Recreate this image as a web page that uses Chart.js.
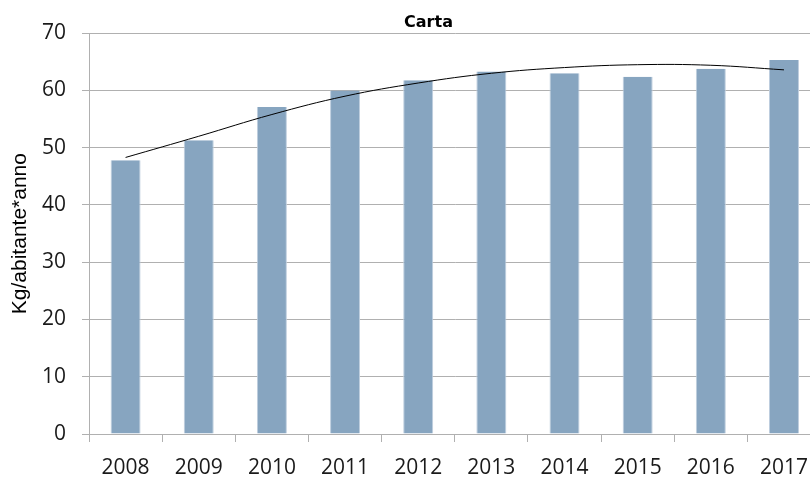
<!DOCTYPE html>
<html>
<head>
<meta charset="utf-8">
<script src="https://cdn.jsdelivr.net/npm/chart.js@4/dist/chart.umd.min.js"></script>
<style>
html,body{margin:0;padding:0;background:#fff;overflow:hidden;}
#wrap{width:810px;height:477px;overflow:hidden;position:relative;}
canvas{position:absolute;left:0;top:0;}
</style>
</head>
<body>
<div id="wrap"><canvas id="c" width="821" height="477"></canvas></div>
<script>
const years = ['2008','2009','2010','2011','2012','2013','2014','2015','2016','2017'];
const cartaValues = [47.8, 51.3, 57.1, 60.0, 61.8, 63.3, 63.0, 62.4, 63.8, 65.3];
const trendValues = [48.3, 52.0, 55.8, 59.0, 61.3, 63.0, 64.0, 64.5, 64.4, 63.6];
const yTicks = [0, 10, 20, 30, 40, 50, 60, 70];

const gridGray = '#b0b0b0';
const textCol = '#1a1a1a';

const shiftTitle = {
  id: 'shiftTitle',
  beforeDraw(chart) {
    const t = chart.titleBlock;
    if (t) { t.left = 36; t.right = 821; }
  }
};

new Chart(document.getElementById('c'), {
  type: 'bar',
  plugins: [shiftTitle],
  data: {
    labels: years,
    datasets: [
      {
        type: 'line',
        label: 'Tendenza',
        data: trendValues,
        borderColor: '#000000',
        borderWidth: 1,
        pointRadius: 0,
        tension: 0.4,
        fill: false,
        order: 0
      },
      {
        type: 'bar',
        label: 'Carta',
        data: cartaValues,
        backgroundColor: 'rgb(135,165,192)',
        borderColor: 'rgb(190,206,222)',
        borderWidth: {left:1,right:1,top:0,bottom:0},
        barPercentage: 0.41,
        categoryPercentage: 1,
        order: 1
      }
    ]
  },
  options: {
    responsive: false,
    animation: false,
    devicePixelRatio: 1,
    layout: { padding: 0 },
    plugins: {
      legend: { display: false },
      tooltip: { enabled: false },
      title: {
        display: true,
        text: 'Carta',
        color: '#000',
        font: { family: 'DejaVu Sans', weight: 'bold', size: 16, lineHeight: 1.2 },
        padding: { top: 13, bottom: 1 }
      }
    },
    scales: {
      x: {
        offset: true,
        grid: {
          display: true,
          offset: true,
          drawOnChartArea: false,
          drawTicks: true,
          tickLength: 8,
          color: gridGray,
          lineWidth: 1
        },
        border: { display: true, color: gridGray, width: 1 },
        ticks: {
          color: textCol,
          font: { family: 'Open Sans', size: 21 },
          padding: 13,
          maxRotation: 0,
          autoSkip: false
        },
        afterFit: (s) => { s.height = 43; }
      },
      y: {
        min: 0,
        max: 70,
        afterBuildTicks: (s) => { s.ticks = yTicks.map(v => ({ value: v })); },
        grid: {
          color: gridGray,
          lineWidth: 1,
          drawTicks: true,
          tickLength: 7
        },
        border: { display: true, color: gridGray, width: 1 },
        ticks: {
          color: textCol,
          font: { family: 'Open Sans', size: 21 },
          padding: 16
        },
        title: {
          display: true,
          text: 'Kg/abitante*anno',
          color: '#000',
          font: { family: 'Liberation Sans', size: 21, lineHeight: 1.2 },
          padding: { top: 8, bottom: 0 }
        },
        afterFit: (s) => { s.width = 89; }
      }
    }
  }
});
</script>
</body>
</html>
